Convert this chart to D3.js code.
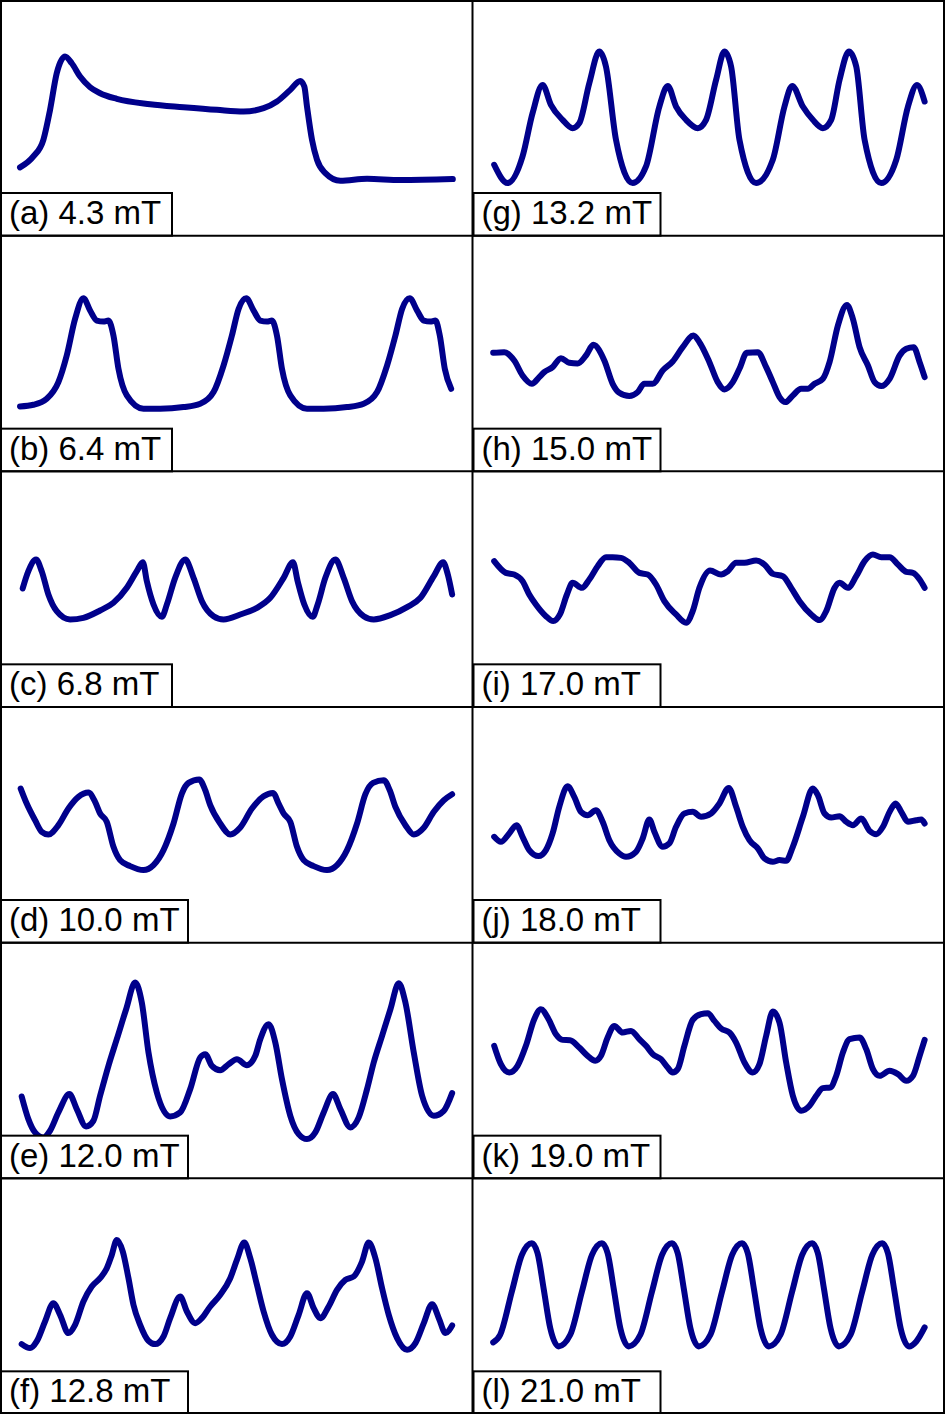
<!DOCTYPE html>
<head>
  <meta charset="utf-8">
  <script src="https://d3js.org/d3.v7.min.js"></script>
  <style>
    body { margin:0; background:#fff; }
    text { font-family: "Liberation Sans", Arial, sans-serif; }
  </style>
</head>

<body>
  <script>
    // field labels, column by column (left: a-f, right: g-l)
    var labels = ["(a) 4.3 mT", "(b) 6.4 mT", "(c) 6.8 mT", "(d) 10.0 mT", "(e) 12.0 mT", "(f) 12.8 mT",
                  "(g) 13.2 mT", "(h) 15.0 mT", "(i) 17.0 mT", "(j) 18.0 mT", "(k) 19.0 mT", "(l) 21.0 mT"]

    // [position, intensity]
    var traceA = [[60,205],[100,238],[130,288],[150,378],[170,488],[195,538],[215,518],[240,478],[270,446],[300,428],[350,411],
      [450,395],[550,386],[650,378],[730,373],[790,383],[830,403],[870,438],[900,465],[912,448],[920,388],[935,288],[950,228],
      [975,188],[1020,165],[1100,171],[1200,167],[1357,170]]
    var traceB = [[60,195],[100,200],[140,218],[175,268],[200,348],[225,458],[250,520],[270,483],[290,453],[310,450],[325,453],
      [340,408],[355,308],[380,228],[430,188],[480,188],[550,193],[600,203],[640,238],[670,318],[695,408],[715,488],[738,520],
      [760,483],[780,453],[800,450],[815,453],[830,408],[845,308],[870,228],[920,188],[970,188],[1040,193],[1090,203],[1130,238],
      [1160,318],[1185,408],[1205,488],[1228,520],[1250,483],[1270,453],[1290,450],[1305,453],[1318,408],[1333,308],[1352,248]]
    var traceC = [[68,356],[85,408],[108,443],[125,408],[145,338],[170,288],[210,263],[250,268],[300,290],[340,313],[380,358],
      [410,408],[428,435],[440,378],[460,308],[485,271],[500,308],[525,388],[555,443],[580,388],[605,318],[640,273],[670,263],
      [720,278],[770,298],[810,328],[850,388],[878,435],[892,378],[912,308],[937,271],[952,308],[975,388],[1005,443],[1030,388],
      [1055,318],[1090,273],[1120,263],[1170,276],[1220,300],[1260,328],[1300,393],[1328,435],[1342,398],[1355,338]]
    var traceD = [[62,463],[80,418],[105,368],[125,333],[145,325],[175,353],[205,403],[235,438],[265,451],[285,423],[300,388],
      [320,363],[340,288],[360,248],[390,230],[430,218],[460,233],[490,278],[520,358],[545,448],[565,480],[597,490],[615,458],
      [630,413],[660,358],[690,325],[720,346],[755,403],[790,440],[818,450],[835,418],[850,388],[870,363],[890,288],[910,248],
      [940,230],[980,218],[1010,233],[1040,278],[1070,358],[1095,446],[1118,480],[1150,488],[1168,458],[1185,408],[1215,353],
      [1240,325],[1270,345],[1300,393],[1330,428],[1355,446]]
    var traceE = [[65,246],[85,178],[105,138],[130,123],[150,143],[175,198],[208,253],[230,208],[258,156],[280,173],[300,248],
      [325,338],[350,418],[378,508],[405,588],[425,528],[445,378],[470,258],[510,186],[540,198],[570,268],[600,363],[615,373],
      [635,338],[660,325],[685,343],[710,358],[740,340],[765,368],[780,418],[805,463],[825,408],[845,298],[870,188],[895,133],
      [920,118],[945,138],[970,198],[998,253],[1020,208],[1050,153],[1075,183],[1100,268],[1120,348],[1145,428],[1170,508],
      [1195,586],[1215,528],[1240,378],[1265,248],[1300,188],[1330,203],[1355,256]]
    var traceF = [[65,210],[90,198],[110,218],[135,278],[160,333],[180,298],[205,243],[225,268],[250,338],[275,383],[300,408],
      [320,438],[335,478],[350,523],[368,488],[385,408],[400,328],[420,268],[445,220],[465,210],[490,233],[510,288],[540,353],
      [560,308],[585,273],[605,288],[630,323],[660,358],[690,408],[710,463],[732,515],[750,468],[770,388],[790,308],[815,238],
      [845,210],[870,233],[895,298],[920,363],[940,318],[960,288],[985,323],[1010,373],[1035,403],[1060,413],[1085,458],
      [1105,515],[1125,468],[1145,378],[1165,298],[1190,228],[1220,193],[1245,213],[1270,273],[1295,330],[1315,288],[1335,243],
      [1355,266]]
    var traceG = [[65,213],[105,158],[150,238],[180,368],[210,453],[235,393],[270,348],[300,323],[320,338],[350,458],[380,553],
      [400,508],[430,288],[480,158],[520,208],[560,388],[585,450],[610,388],[640,348],[675,323],[700,348],[730,468],[755,553],
      [775,508],[800,288],[850,158],[900,228],[935,388],[958,450],[990,388],[1020,348],[1050,323],[1075,348],[1100,468],
      [1128,553],[1150,508],[1175,288],[1225,158],[1270,228],[1305,388],[1332,453],[1355,403]]
    var traceH = [[62,356],[95,358],[125,333],[150,288],[178,263],[200,283],[215,298],[240,313],[265,340],[290,326],[315,324],
      [340,348],[362,380],[395,333],[420,263],[440,236],[470,226],[495,238],[515,263],[540,263],[570,303],[600,330],[630,373],
      [662,408],[680,388],[710,328],[735,268],[755,246],[780,268],[800,308],[822,356],[855,358],[880,313],[900,268],[920,223],
      [938,208],[960,228],[985,248],[1005,248],[1025,263],[1050,278],[1070,328],[1095,438],[1122,500],[1140,458],[1160,373],
      [1185,318],[1205,268],[1225,256],[1250,278],[1280,348],[1300,368],[1322,373],[1340,328],[1355,283]]
    var traceI = [[65,438],[100,403],[125,398],[150,378],[170,338],[190,308],[220,273],[242,258],[262,278],[283,338],[300,373],
      [328,358],[350,383],[375,423],[400,450],[420,450],[445,448],[470,433],[500,403],[525,398],[550,368],[575,318],[610,278],
      [640,253],[660,288],[680,358],[712,410],[745,398],[765,408],[790,433],[815,433],[850,440],[875,428],[900,400],[930,393],
      [955,358],[980,318],[1015,278],[1040,261],[1060,288],[1085,358],[1100,373],[1125,358],[1150,393],[1175,438],[1200,458],
      [1225,450],[1250,450],[1275,428],[1300,406],[1320,403],[1340,383],[1355,358]]
    var traceJ = [[65,318],[85,303],[110,328],[132,353],[150,318],[170,278],[198,260],[220,278],[240,328],[260,408],[285,470],
      [305,438],[325,393],[345,383],[370,398],[390,363],[410,308],[440,268],[460,258],[490,273],[510,313],[530,370],[545,333],
      [570,288],[590,298],[610,348],[635,388],[660,393],[685,378],[715,388],[740,418],[768,465],[790,408],[810,348],[830,308],
      [855,283],[875,253],[900,243],[920,248],[940,246],[960,288],[990,378],[1020,463],[1035,443],[1055,388],[1075,376],
      [1100,380],[1120,363],[1140,353],[1165,373],[1190,336],[1210,326],[1230,348],[1250,393],[1268,418],[1285,393],[1305,363],
      [1330,368],[1345,370],[1355,358]]
    var traceK = [[65,398],[85,343],[110,318],[135,338],[160,398],[185,478],[205,508],[228,478],[250,433],[270,416],[292,415],
      [320,393],[345,368],[368,353],[385,368],[405,423],[425,458],[450,438],[475,443],[500,418],[520,398],[540,373],[565,358],
      [585,333],[600,318],[615,328],[635,398],[660,476],[685,493],[705,496],[725,473],[745,450],[770,438],[790,408],[815,348],
      [840,318],[860,343],[880,428],[900,501],[920,468],[940,348],[960,248],[985,203],[1010,218],[1030,248],[1050,271],
      [1072,273],[1090,308],[1110,378],[1130,418],[1160,423],[1180,388],[1200,328],[1220,308],[1250,323],[1275,313],[1300,293],
      [1320,308],[1340,368],[1355,416]]
    var traceL = [[62,215],[83,238],[118,368],[148,478],[178,513],[195,483],[213,378],[233,258],[258,203],
      [293,238],[328,368],[358,478],[388,513],[405,483],[423,378],[443,258],[468,203],
      [503,238],[538,368],[568,478],[598,513],[615,483],[633,378],[653,258],[678,203],
      [713,238],[748,368],[778,478],[808,513],[825,483],[843,378],[863,258],[888,203],
      [923,238],[958,368],[988,478],[1018,513],[1035,483],[1053,378],[1073,258],[1098,203],
      [1133,238],[1168,368],[1198,478],[1228,513],[1245,483],[1263,378],[1283,258],[1308,203],
      [1330,218],[1355,260]]

    var traces = [traceA, traceB, traceC, traceD, traceE, traceF, traceG, traceH, traceI, traceJ, traceK, traceL]

    var W = 945, H = 1414
    var rows = 6
    var colW = W / 2, rowH = H / rows

    // label boxes are sized to the widest label of their group
    var boxW = [171, 171, 171, 187, 187, 187, 187, 187, 187, 187, 187, 187]

    var svg = d3.select("body").append("svg")
      .attr("width", W)
      .attr("height", H)

    svg.append("rect").attr("width", W).attr("height", H).attr("fill", "#fff")

    traces.forEach(function(data, i) {
      var col = Math.floor(i / rows), row = i % rows
      var x0 = col * colW, y0 = row * rowH

      var x = d3.scaleLinear().domain([0, 1416]).range([x0, x0 + colW])
      var y = d3.scaleLinear().domain([0, 708]).range([y0 + rowH, y0])

      var line = d3.line()
        .x(function(d) { return x(d[0]) })
        .y(function(d) { return y(d[1]) })
        .curve(d3.curveMonotoneX)

      var g = svg.append("g").attr("class", "panel")

      g.append("path")
        .datum(data)
        .attr("d", line)
        .attr("fill", "none")
        .attr("stroke", "#00008b")
        .attr("stroke-width", 6)
        .attr("stroke-linecap", "round")
        .attr("stroke-linejoin", "round")

      // label box sits on top of the trace
      g.append("rect")
        .attr("x", x0 + 1)
        .attr("y", y0 + 193)
        .attr("width", boxW[i])
        .attr("height", rowH - 193)
        .attr("fill", "#fff")
        .attr("stroke", "#000")
        .attr("stroke-width", 2)

      g.append("text")
        .attr("x", x0 + 9)
        .attr("y", y0 + 224)
        .attr("font-size", 33)
        .attr("fill", "#000")
        .text(labels[i])
    })

    // panel grid
    var grid = svg.append("g").attr("stroke", "#000").attr("stroke-width", 2)
    d3.range(1, rows).forEach(function(r) {
      grid.append("line").attr("x1", 0).attr("x2", W).attr("y1", r * rowH).attr("y2", r * rowH)
    })
    grid.append("line").attr("x1", colW).attr("x2", colW).attr("y1", 0).attr("y2", H)
    grid.append("rect").attr("x", 1).attr("y", 1).attr("width", W - 2).attr("height", H - 2).attr("fill", "none")

  </script>
</body>
